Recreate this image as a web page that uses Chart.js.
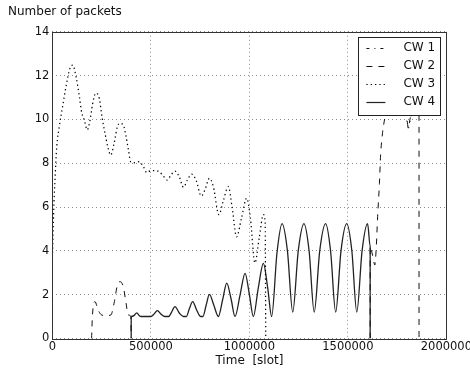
<!DOCTYPE html>
<html><head><meta charset="utf-8">
<script src="https://cdn.jsdelivr.net/npm/chart.js@4/dist/chart.umd.min.js"></script>
<style>html,body{margin:0;padding:0;background:#fff;}canvas{display:block;}</style>
</head><body>
<canvas id="c" width="470" height="372"></canvas>
<script>
const seriesNames = ["CW 1", "CW 2", "CW 3", "CW 4"];
const xTickValues = [0, 500000, 1000000, 1500000, 2000000];
const yTickValues = [0, 2, 4, 6, 8, 10, 12, 14];
const yLabel = "Number of packets";
const xLabel = "Time  [slot]";

// CW 1
const cw1T = [1790000, 1800000, 1807000, 1815000, 1825000];
const cw1V = [10.3, 9.9, 9.6, 9.9, 10.3];

// CW 2
const cw2T = [199000, 203000, 216000, 232000, 250000, 275000, 297000, 313000, 330000, 343000, 360000, 374000, 385000, 398000, 400000, null,
  1613000, 1613000, 1625000, 1637000, 1643000, 1651000, 1660000, 1666000, 1676000, 1688000, 1700000, 1730000, 1770000, 1800000, 1807000, 1815000, 1840000, 1861000, 1861000];
const cw2V = [0, 1.0, 1.68, 1.3, 1.07, 1.04, 1.07, 1.6, 2.44, 2.59, 2.36, 1.6, 1.07, 1.0, 0, null,
  0, 4.2, 3.8, 3.35, 4.0, 5.56, 7.08, 8.37, 9.4, 10.12, 11.0, 12.5, 11.5, 10.0, 9.6, 10.0, 11.0, 11.0, 0];

// CW 3
const cw3T = [0, 4000, 8000, 13000, 22000, 35000, 52000, 69000, 89000, 103000, 120000, 137000, 149000, 162000, 177000, 191000, 204000, 220000, 238000, 252000, 267000, 281000, 296000, 313000, 330000, 343000, 360000, 374000, 386000, 397000, 419000, 441000, 462000, 479000, 500000, 521000, 543000, 566000, 583000, 602000, 622000, 644000, 665000, 685000, 707000, 729000, 756000, 775000, 797000, 817000, 845000, 868000, 893000, 912000, 935000, 960000, 986000, 1005000, 1028000, 1050000, 1071000, 1080000, 1083000];
const cw3V = [3.7, 5.0, 6.2, 7.2, 8.75, 9.67, 10.6, 11.5, 12.33, 12.48, 11.95, 11.04, 10.3, 9.97, 9.52, 9.97, 10.7, 11.2, 10.96, 10.1, 9.37, 8.75, 8.37, 8.9, 9.67, 9.82, 9.74, 9.21, 8.6, 8.07, 8.02, 8.07, 7.84, 7.57, 7.66, 7.66, 7.61, 7.38, 7.23, 7.46, 7.64, 7.38, 6.9, 7.23, 7.5, 7.23, 6.5, 6.8, 7.31, 6.93, 5.65, 6.3, 6.93, 6.0, 4.64, 5.5, 6.4, 5.5, 3.45, 4.6, 5.65, 5.3, 0];

// CW 4
const cw4T = [400000, 400000, 415000, 428000, 440000, 450000, 500000, 515000, 533000, 552000, 571000, 590000, 605000, 622000, 645000, 665000, 680000, 695000, 712000, 732000, 752000, 764000, 780000, 797000, 820000, 842000, 865000, 885000, 907000, 927000, 953000, 978000, 1000000, 1020000, 1045000, 1071000, 1093000, 1113000, 1140000, 1166000, 1193000, 1220000, 1248000, 1277000, 1303000, 1329000, 1357000, 1387000, 1412000, 1438000, 1465000, 1494000, 1520000, 1545000, 1572000, 1600000, 1613000, 1613000];
const cw4V = [0, 1.0, 1.05, 1.17, 1.05, 1.0, 1.0, 1.1, 1.27, 1.1, 1.0, 1.0, 1.2, 1.45, 1.15, 1.0, 1.0, 1.35, 1.68, 1.3, 1.0, 1.0, 1.5, 2.01, 1.5, 1.0, 1.8, 2.52, 1.8, 1.0, 2.0, 2.97, 2.0, 1.0, 2.3, 3.43, 2.3, 1.0, 3.9, 5.24, 4.0, 1.2, 4.0, 5.24, 4.0, 1.2, 4.0, 5.24, 4.0, 1.2, 4.0, 5.24, 4.0, 1.2, 4.0, 5.24, 4.2, 0];

const toPts = (t, v) => t.map((x, i) => (x === null ? {x: NaN, y: null} : {x: x, y: v[i]}));

const styles = [
  {dash: [3, 5, 1, 5], width: 1, color: '#111'},
  {dash: [6, 6], width: 1, color: '#111'},
  {dash: [1.3, 3], width: 1.25, color: '#000'},
  {dash: [], width: 1.3, color: '#222'}
];
const seriesData = [toPts(cw1T, cw1V), toPts(cw2T, cw2V), toPts(cw3T, cw3V), toPts(cw4T, cw4V)];

const FONT = "'DejaVu Sans', sans-serif";

const frameAndLegend = {
  id: 'frameAndLegend',
  afterDraw(chart) {
    const ctx = chart.ctx, a = chart.chartArea;
    ctx.save();
    ctx.strokeStyle = '#333';
    ctx.lineWidth = 1;
    ctx.setLineDash([]);
    ctx.strokeRect(Math.round(a.left) + 0.5, Math.round(a.top) + 0.5, Math.round(a.right - a.left), Math.round(a.bottom - a.top));
    // legend
    const bx = a.right - 88, by = a.top + 5.5, bw = 82.4, bh = 78.4;
    ctx.fillStyle = '#fff';
    ctx.fillRect(bx, by, bw, bh);
    ctx.strokeStyle = '#222';
    ctx.strokeRect(Math.round(bx) + 0.5, Math.round(by) + 0.5, Math.round(bw), Math.round(bh));
    ctx.font = "12px " + FONT;
    ctx.textBaseline = 'middle';
    ctx.textAlign = 'left';
    seriesNames.forEach((name, i) => {
      const yy = by + 11 + i * 18;
      const st = styles[i];
      ctx.beginPath();
      ctx.setLineDash(st.dash);
      ctx.lineWidth = Math.min(st.width, 1.2);
      ctx.strokeStyle = st.color;
      ctx.moveTo(bx + 8, Math.round(yy) + 0.5);
      ctx.lineTo(bx + 27, Math.round(yy) + 0.5);
      ctx.stroke();
      ctx.setLineDash([]);
      ctx.fillStyle = '#111';
      ctx.fillText(name, bx + 45, yy);
    });
    // y label on top
    ctx.font = "12px " + FONT;
    ctx.fillStyle = '#111';
    ctx.textBaseline = 'middle';
    ctx.fillText(yLabel, 8, 12);
    ctx.restore();
  }
};

new Chart(document.getElementById('c'), {
  type: 'line',
  data: {
    datasets: seriesNames.map((n, i) => ({
      label: n,
      data: seriesData[i],
      borderColor: styles[i].color,
      borderWidth: styles[i].width,
      borderDash: styles[i].dash,
      pointRadius: 0,
      fill: false,
      cubicInterpolationMode: 'monotone',
      spanGaps: false
    }))
  },
  options: {
    responsive: false,
    animation: false,
    parsing: true,
    layout: {padding: {left: 0, top: 31.8, right: 23.6, bottom: 0}},
    plugins: {legend: {display: false}, tooltip: {enabled: false}},
    scales: {
      x: {
        type: 'linear', min: 0, max: 2000000,
        afterBuildTicks(s) { s.ticks = xTickValues.map(v => ({value: v})); },
        afterFit(s) { s.height = 33.6; s.paddingLeft = 0; s.paddingRight = 0; },
        ticks: {color: '#111', font: {family: FONT, size: 11.5}, padding: 2, maxRotation: 0, autoSkip: false, callback: v => String(v)},
        grid: {color: 'rgba(0,0,0,0.45)', lineWidth: 1, drawTicks: false},
        border: {display: false, dash: [1, 3]},
        title: {display: true, text: xLabel, color: '#111', font: {family: FONT, size: 12}, padding: {top: 0, bottom: 4}}
      },
      y: {
        type: 'linear', min: 0, max: 14,
        afterBuildTicks(s) { s.ticks = yTickValues.map(v => ({value: v})); },
        afterFit(s) { s.width = 52.4; s.paddingTop = 0; s.paddingBottom = 0; },
        ticks: {color: '#111', font: {family: FONT, size: 11.5}, padding: 3, autoSkip: false, callback: v => String(v)},
        grid: {color: 'rgba(0,0,0,0.45)', lineWidth: 1, drawTicks: false},
        border: {display: false, dash: [1, 3]}
      }
    }
  },
  plugins: [frameAndLegend]
});
</script>
</body></html>
